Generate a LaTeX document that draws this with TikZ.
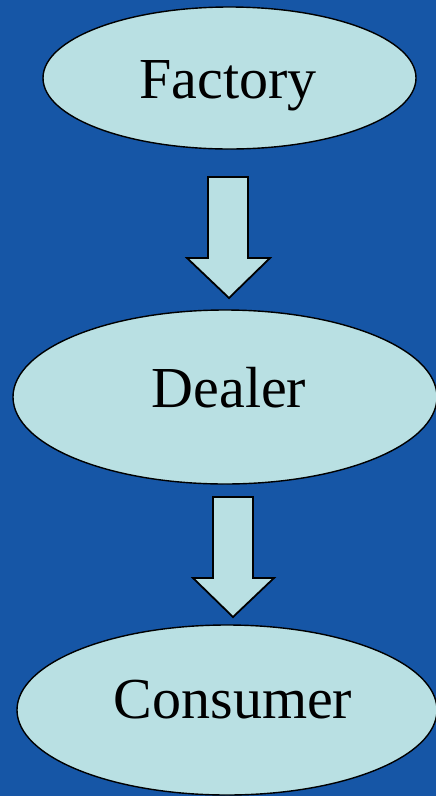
\documentclass[tikz,border=0pt]{standalone}
\usepackage{fontspec}
\setmainfont{Liberation Serif}
\usetikzlibrary{shapes.geometric}
\definecolor{bgblue}{HTML}{1656A6}
\definecolor{oval}{HTML}{B9E0E3}
\tikzset{
  ovalnode/.style={ellipse, draw=black, line width=1.4pt, fill=oval, inner sep=0pt},
  lbl/.style={anchor=base, font=\fontsize{58}{68}\selectfont, text=black, inner sep=0pt},
  blockarrow/.style={draw=black, line width=1.8pt, fill=oval, line join=miter}
}
\begin{document}
\begin{tikzpicture}[x=1pt,y=-1pt]
\fill[bgblue] (0,0) rectangle (436,796);
\useasboundingbox (0,0) rectangle (436,796);
% ovals
\node[ovalnode, minimum width=373pt, minimum height=142pt] (factory) at (229.5,78) {};
\node[ovalnode, minimum width=424pt, minimum height=174pt] (dealer) at (225,397) {};
\node[ovalnode, minimum width=420pt, minimum height=170pt] (consumer) at (227,710) {};
% labels
\node[lbl] (tfactory) at (228,98) {Factory};
\node[lbl] (tdealer) at (229,407) {Dealer};
\node[lbl] (tconsumer) at (233,718) {Consumer};
% block arrows
\draw[blockarrow] (208,177) -- (248,177) -- (248,258) -- (270,258) -- (229,298) -- (187,258) -- (208,258) -- cycle;
\draw[blockarrow] (213,497) -- (253,497) -- (253,578) -- (274,578) -- (233,617) -- (193,578) -- (213,578) -- cycle;
\end{tikzpicture}
\end{document}
